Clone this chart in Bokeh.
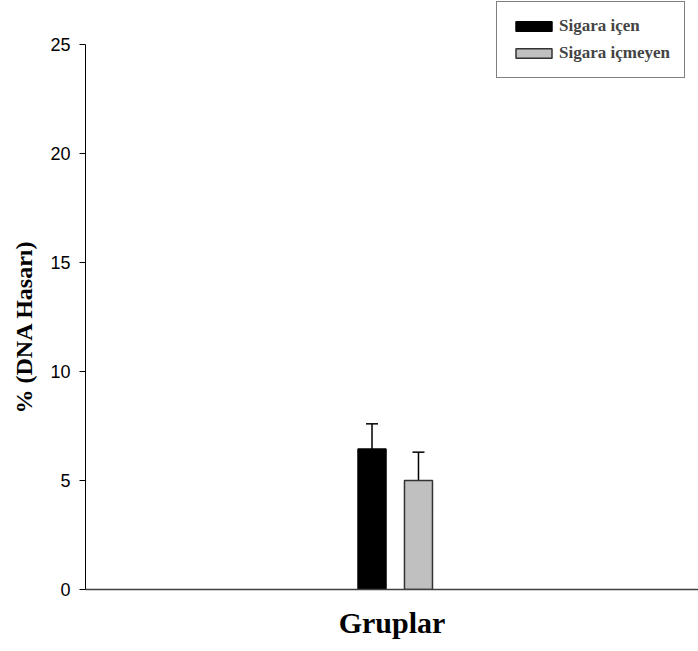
from bokeh.plotting import figure
from bokeh.models import (ColumnDataSource, FactorRange, Range1d, Whisker, TeeHead,
                          Legend, LegendItem, FixedTicker, Title)
from bokeh.transform import dodge
from bokeh.embed import file_html
from bokeh.resources import INLINE

groups = ["Gruplar"]
series = ["Sigara içen", "Sigara içmeyen"]
means = [6.45, 5.0]
errors = [1.15, 1.3]
colors = ["#000000", "#C0C0C0"]
outline = ["#000000", "#333333"]
offsets = [-0.0326, 0.0432]
y_ticks = [0, 5, 10, 15, 20, 25]
y_label = "% (DNA Hasarı)"

p = figure(width=698, height=651, x_range=FactorRange(*groups), y_range=Range1d(0, 27.02),
           output_backend="svg", toolbar_location=None,
           min_border_left=85, min_border_right=0, min_border_top=0, min_border_bottom=62)

p.background_fill_color = "white"
p.border_fill_color = "white"
p.outline_line_color = None
p.xgrid.visible = False
p.ygrid.visible = False

items = []
for name, m, e, c, oc, off in zip(series, means, errors, colors, outline, offsets):
    src = ColumnDataSource(dict(x=groups, top=[m], upper=[m + e]))
    r = p.vbar(x=dodge("x", off, range=p.x_range), top="top", width=0.0457, bottom=0,
               source=src, fill_color=c, line_color=oc, line_width=1.5)
    w = Whisker(base=dodge("x", off, range=p.x_range), upper="upper", lower="top", source=src,
                upper_head=TeeHead(size=12, line_color="black", line_width=1.5),
                lower_head=None, line_color="black", line_width=1.5)
    p.add_layout(w)
    items.append(LegendItem(label=name, renderers=[r]))

legend = Legend(items=items, location=(411, 511))
legend.border_line_color = "black"
legend.border_line_width = 1.5
legend.background_fill_color = "white"
legend.background_fill_alpha = 1
legend.glyph_width = 45
legend.glyph_height = 12
legend.label_text_font = "Liberation Serif"
legend.label_text_font_style = "bold"
legend.label_text_font_size = "17px"
legend.label_standoff = 3
legend.padding = 14
legend.spacing = 7
legend.label_height = 20
legend.margin = 0
p.add_layout(legend, "center")

ya = p.yaxis[0]
ya.ticker = FixedTicker(ticks=y_ticks)
ya.bounds = (0, 25)
ya.major_tick_out = 6
ya.major_tick_in = 0
ya.minor_tick_line_color = None
ya.axis_line_color = "black"
ya.axis_line_width = 1
ya.major_tick_line_color = "black"
ya.major_label_text_font = "Liberation Sans"
ya.major_label_text_font_size = "18px"
ya.major_label_text_color = "black"
ya.major_label_standoff = 9

ytitle = Title(text=y_label, align="left", offset=176, vertical_align="top",
               text_font="Liberation Serif", text_font_style="bold", text_font_size="24px",
               text_color="black", standoff=17)
p.add_layout(ytitle, "left")

xa = p.xaxis[0]
xa.major_tick_line_color = None
xa.minor_tick_line_color = None
xa.axis_line_color = "#404040"
xa.axis_line_width = 1.5
xa.major_label_text_font = "Liberation Serif"
xa.major_label_text_font_style = "bold"
xa.major_label_text_font_size = "30px"
xa.major_label_text_color = "black"
xa.major_label_standoff = 10

open("out.html", "w").write(file_html(p, INLINE))
